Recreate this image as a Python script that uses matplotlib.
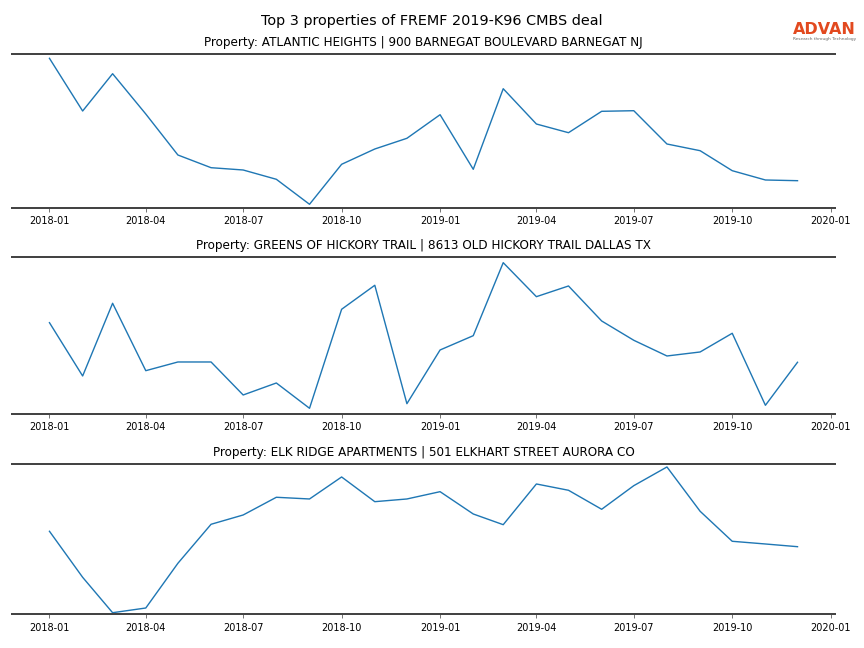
import matplotlib.pyplot as plt
import pandas as pd

months = pd.date_range('2018-01-01', '2019-12-01', freq='MS')

titles = [
    'Property: ATLANTIC HEIGHTS | 900 BARNEGAT BOULEVARD BARNEGAT NJ',
    'Property: GREENS OF HICKORY TRAIL | 8613 OLD HICKORY TRAIL DALLAS TX',
    'Property: ELK RIDGE APARTMENTS | 501 ELKHART STREET AURORA CO',
]

atlantic_heights = [1494, 967, 1340, 937, 527, 400, 377, 284, 34, 434, 587, 694,
                    930, 384, 1190, 837, 750, 964, 970, 637, 570, 370, 277, 270]
greens_of_hickory = [910, 377, 1104, 430, 517, 517, 187, 307, 54, 1044, 1284, 100,
                     637, 780, 1510, 1170, 1277, 927, 734, 577, 617, 804, 84, 514]
elk_ridge = [830, 370, 16, 63, 510, 900, 993, 1170, 1153, 1373, 1126, 1153,
             1226, 1003, 896, 1303, 1240, 1050, 1286, 1473, 1030, 730, 703, 676]

series = [atlantic_heights, greens_of_hickory, elk_ridge]
y_tops = [1540, 1570, 1503]

tick_dates = pd.date_range('2018-01-01', '2020-01-01', freq='3MS')
tick_labels = [d.strftime('%Y-%m') for d in tick_dates]

fig = plt.figure(figsize=(12, 9), dpi=72)
boxes = [(0.6795, 0.9171), (0.3616, 0.6039), (0.0520, 0.2840)]

for (bottom, top), title, values, ytop in zip(boxes, titles, series, y_tops):
    ax = fig.add_axes([0.0139, bottom, 0.9525, top - bottom])
    ax.plot(months, values, color='#1f77b4', linewidth=1.4)
    ax.set_ylim(0, ytop)
    ax.set_xlim(pd.Timestamp('2017-11-27'), pd.Timestamp('2020-01-05'))
    ax.set_xticks(tick_dates)
    ax.set_xticklabels(tick_labels)
    ax.set_yticks([])
    ax.tick_params(axis='x', labelsize=9.7, length=3.5, width=0.8, pad=5, color='#555555')
    for side in ['left', 'right']:
        ax.spines[side].set_visible(False)
    for side in ['top', 'bottom']:
        ax.spines[side].set_color('#444444')
        ax.spines[side].set_linewidth(2)
    ax.set_title(title, fontsize=12, pad=7.5)

fig.suptitle('Top 3 properties of FREMF 2019-K96 CMBS deal', fontsize=14.4, y=0.978)

fig.text(0.954, 0.9475, 'ADVAN', color='#e2491f', fontsize=16, fontweight='bold',
         ha='center', va='baseline')
fig.text(0.954, 0.938, 'Research through Technology', color='#666666', fontsize=4.2,
         ha='center', va='baseline')

plt.savefig('out.png', dpi=72)
